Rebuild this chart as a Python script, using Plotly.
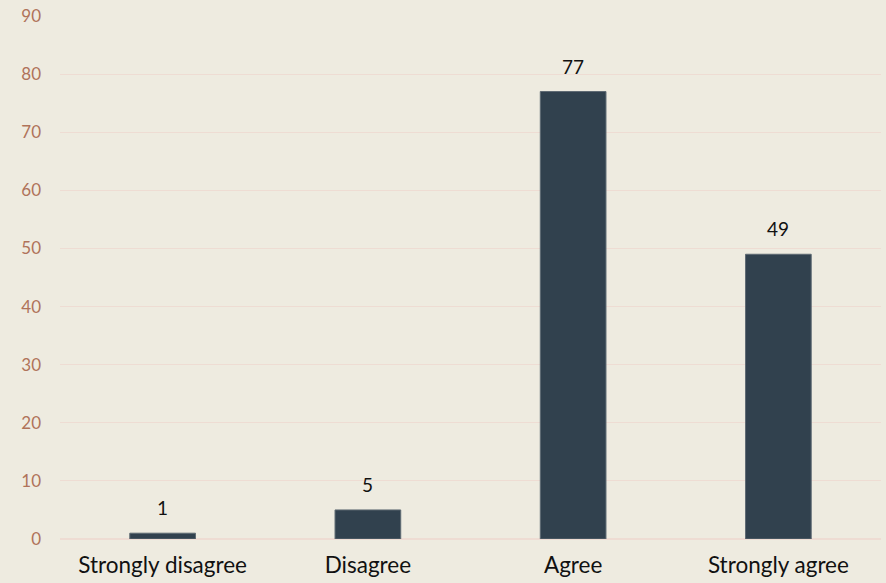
import plotly.graph_objects as go

categories = ["Strongly disagree", "Disagree", "Agree", "Strongly agree"]
values = [1, 5, 77, 49]
y_ticks = [0, 10, 20, 30, 40, 50, 60, 70, 80, 90]

bg = "#EEEBE0"
font_family = "Lato, Open Sans, sans-serif"
fig = go.Figure(go.Bar(
    x=categories, y=values,
    marker=dict(color="#31414E", line=dict(color="#5E6A73", width=1)),
    width=0.32,
))
for c, v in zip(categories, values):
    fig.add_annotation(x=c, y=v, text=str(v), showarrow=False, yanchor="bottom",
                       yshift=12, font=dict(family=font_family, size=19, color="#111111"))
fig.update_layout(
    width=886, height=583,
    margin=dict(l=60, r=5, t=16, b=44),
    paper_bgcolor=bg, plot_bgcolor=bg,
    showlegend=False,
    xaxis=dict(tickfont=dict(family=font_family, size=22.5, color="#111111"),
               showline=False, ticks="", showgrid=False, ticklabelstandoff=10),
    yaxis=dict(range=[0, 90], tickvals=y_ticks,
               tickfont=dict(family=font_family, size=17, color="#B0735A"),
               gridcolor="#EEDCD3", gridwidth=1, zeroline=True, zerolinecolor="#EEDCD3",
               ticks="", ticklabelstandoff=18),
)
fig.write_html("out.html")
